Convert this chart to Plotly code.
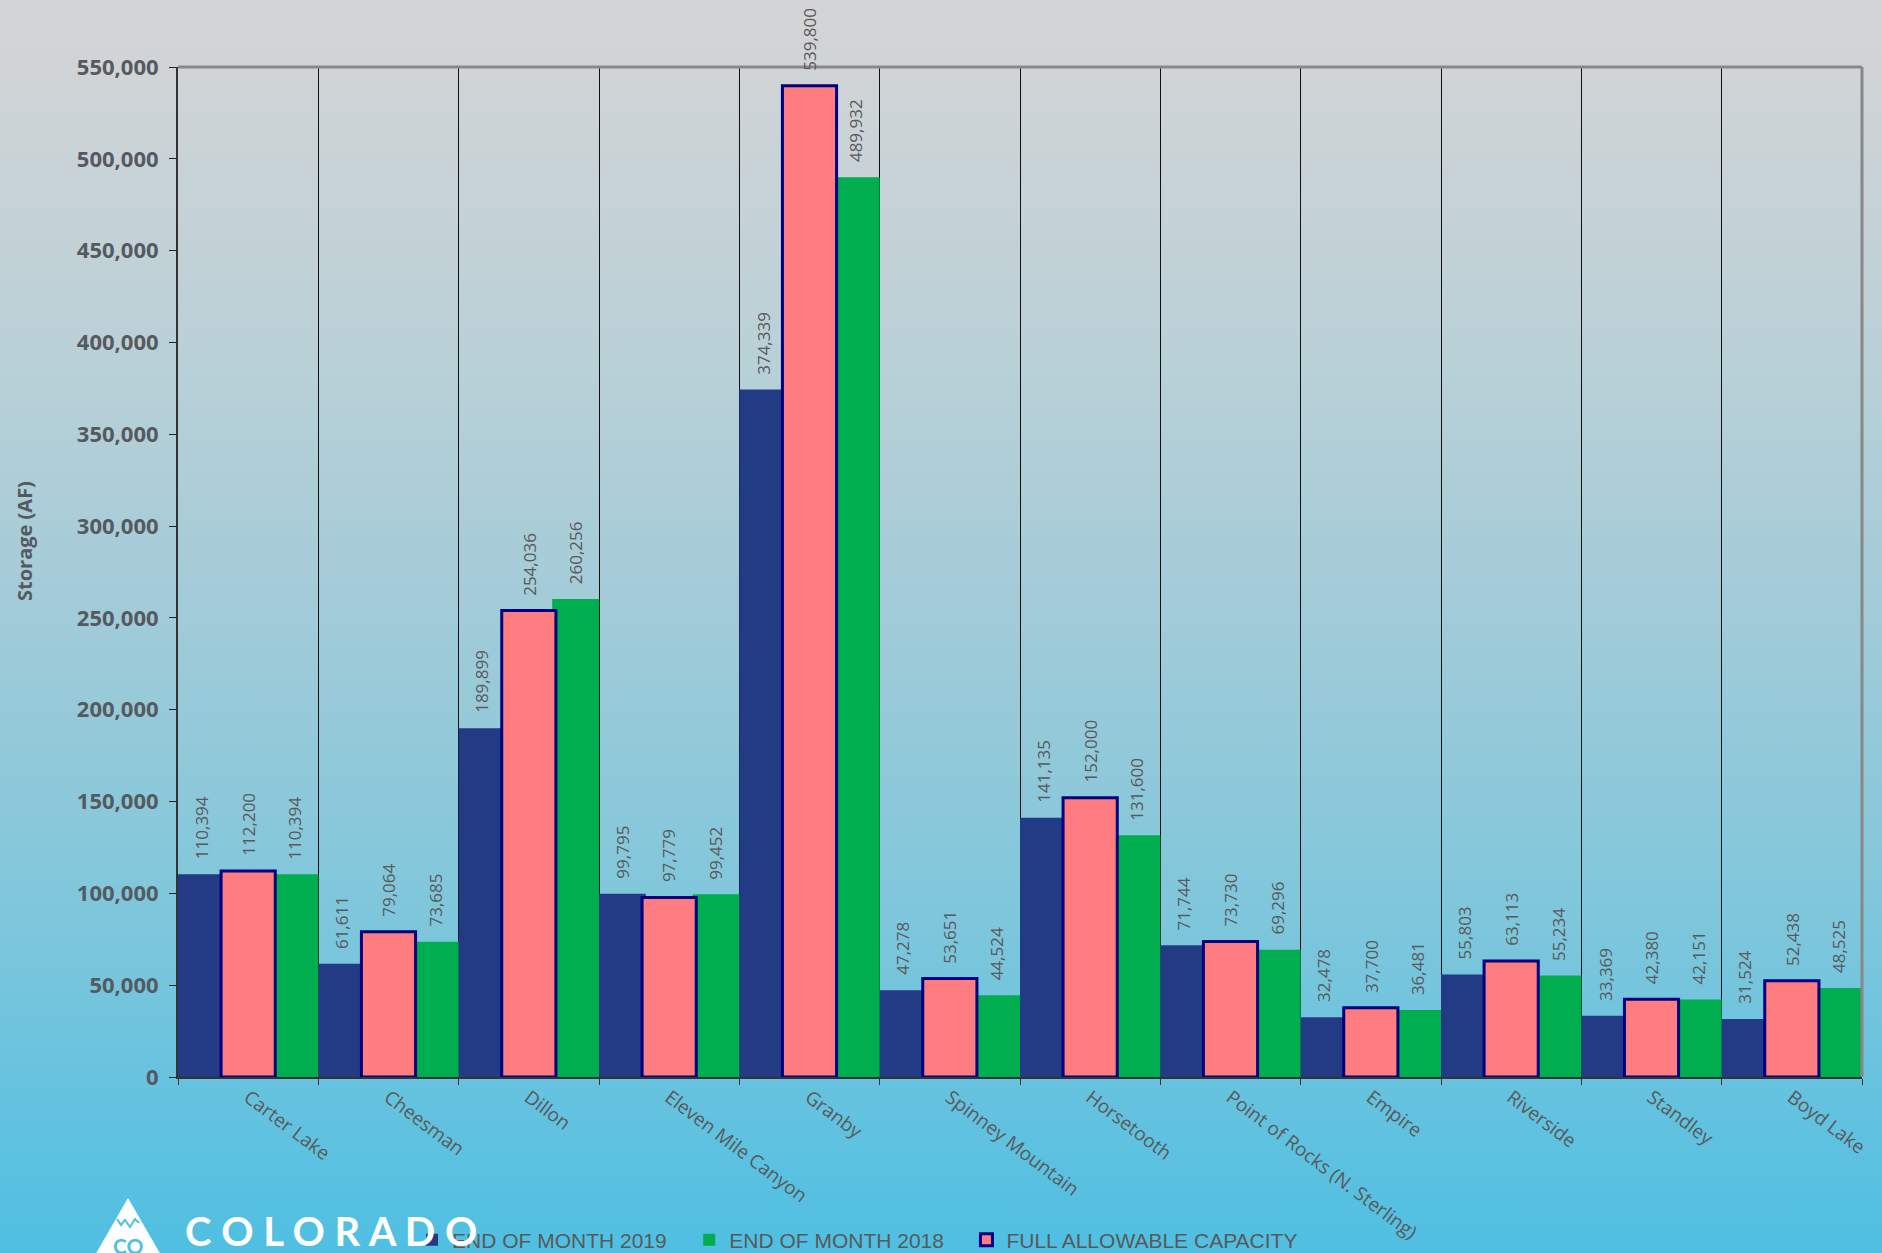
import base64
import plotly.graph_objects as go

categories = ["Carter Lake", "Cheesman", "Dillon", "Eleven Mile Canyon", "Granby",
              "Spinney Mountain", "Horsetooth", "Point of Rocks (N. Sterling)",
              "Empire", "Riverside", "Standley", "Boyd Lake"]
eom_2019 = [110394, 61611, 189899, 99795, 374339, 47278, 141135, 71744, 32478, 55803, 33369, 31524]
full_capacity = [112200, 79064, 254036, 97779, 539800, 53651, 152000, 73730, 37700, 63113, 42380, 52438]
eom_2018 = [110394, 73685, 260256, 99452, 489932, 44524, 131600, 69296, 36481, 55234, 42151, 48525]

W, H = 1882, 1253
ML, MR, MT, MB = 178, 20, 67, 176
PW, PH = W - ML - MR, H - MT - MB

BLUE = "#233a85"
GREEN = "#00ae4f"
PINK = "#ff7c80"
NAVY = "#000080"
TXT = "#595959"
PAD = "\u00a0\u00a0\u00a0"

fig = go.Figure()
fig.add_trace(go.Bar(name="END OF MONTH 2019" + PAD, x=categories, y=eom_2019,
                     marker=dict(color=BLUE, line=dict(width=0)),
                     offset=-0.5, width=1/3, legendrank=1))
fig.add_trace(go.Bar(name="END OF MONTH 2018" + PAD, x=categories, y=eom_2018,
                     marker=dict(color=GREEN, line=dict(width=0)),
                     offset=1/6, width=1/3, legendrank=2))
fig.add_trace(go.Bar(name="FULL ALLOWABLE CAPACITY", x=categories, y=full_capacity,
                     marker=dict(color=PINK, line=dict(color=NAVY, width=3)),
                     offset=-0.193, width=0.386, legendrank=3))

annotations = []
for series, shift in ((eom_2019, -1/3), (full_capacity, 0.0), (eom_2018, 1/3)):
    for i, v in enumerate(series):
        annotations.append(dict(x=i + shift, y=v, xref="x", yref="y", text=f"{v:,}",
                                showarrow=False, textangle=-90, yanchor="bottom",
                                xanchor="center", yshift=13,
                                font=dict(family="Open Sans", size=17, color=TXT)))

def px_x(p):
    return (p - ML) / PW

def px_y(p):
    return (H - MB - p) / PH

# y-axis title
annotations.append(dict(x=px_x(24), y=px_y(541), xref="paper", yref="paper",
                        xanchor="center", yanchor="middle",
                        text="Storage (AF)", showarrow=False, textangle=-90,
                        font=dict(family="Open Sans", size=20, color="#555a60", weight="bold")))
# logo text
annotations.append(dict(x=px_x(183), y=px_y(1231), xref="paper", yref="paper",
                        xanchor="left", yanchor="middle",
                        text="C O L O R A D O", showarrow=False,
                        font=dict(family="Lato", size=40, color="white", weight="bold")))
annotations.append(dict(x=px_x(128), y=px_y(1245), xref="paper", yref="paper",
                        xanchor="center", yanchor="middle",
                        text="CO", showarrow=False,
                        font=dict(family="Lato", size=21, color="#4fc0e1", weight="bold")))

# gradient background via SVG
svg = ('<svg xmlns="http://www.w3.org/2000/svg" width="100" height="100" preserveAspectRatio="none">'
       '<defs><linearGradient id="g" x1="0" y1="0" x2="0" y2="1">'
       '<stop offset="0" stop-color="#d3d4d6"/>'
       '<stop offset="0.05" stop-color="#d1d4d6"/>'
       '<stop offset="0.3" stop-color="#b8d0d7"/>'
       '<stop offset="0.5" stop-color="#a0cbd8"/>'
       '<stop offset="0.75" stop-color="#7bc6dc"/>'
       '<stop offset="1" stop-color="#4ebfe2"/>'
       '</linearGradient></defs><rect width="100" height="100" fill="url(#g)"/></svg>')
src = "data:image/svg+xml;base64," + base64.b64encode(svg.encode()).decode()

shapes = [
    dict(type="line", xref="paper", yref="paper", x0=0, x1=1, y0=1, y1=1,
         line=dict(color="#888888", width=3)),
    dict(type="line", xref="paper", yref="paper", x0=1, x1=1, y0=0, y1=1,
         line=dict(color="#888888", width=3)),
    # logo triangle
    dict(type="path", xref="paper", yref="paper", layer="above",
         path=(f"M{px_x(128)},{px_y(1198)} L{px_x(91)},{px_y(1262)} "
               f"L{px_x(165)},{px_y(1262)} Z"),
         fillcolor="white", line=dict(color="white", width=0)),
    dict(type="path", xref="paper", yref="paper", layer="above",
         path=(f"M{px_x(117)},{px_y(1219)} L{px_x(121)},{px_y(1225)} L{px_x(125)},{px_y(1220)} "
               f"L{px_x(130)},{px_y(1227)} L{px_x(135)},{px_y(1219)} L{px_x(139)},{px_y(1223)}"),
         line=dict(color="#4fc0e1", width=2)),
]

fig.update_layout(
    width=W, height=H,
    margin=dict(l=ML, r=MR, t=MT, b=MB, autoexpand=False),
    paper_bgcolor="#d3d4d6",
    plot_bgcolor="rgba(0,0,0,0)",
    barmode="overlay",
    showlegend=True,
    legend=dict(orientation="h", xref="container", yref="container",
                x=412 / W, y=1 - 1240 / H, xanchor="left", yanchor="middle",
                font=dict(family="Liberation Sans", size=21, color=TXT),
                bgcolor="rgba(0,0,0,0)", traceorder="normal"),
    images=[dict(source=src, xref="paper", yref="paper",
                 x=-(ML + 5) / PW, y=1 + (MT + 5) / PH, sizex=(W + 10) / PW,
                 sizey=(H + 10) / PH,
                 xanchor="left", yanchor="top", sizing="stretch", layer="below")],
    annotations=annotations,
    shapes=shapes,
    xaxis=dict(type="category", tickson="boundaries", showgrid=True, gridcolor="#111111",
               gridwidth=1, ticks="outside", ticklen=6, tickcolor="#333333",
               showline=True, linecolor="#333333", linewidth=2, tickangle=37,
               tickfont=dict(family="Open Sans", size=19, color=TXT),
               range=[-0.5, 11.5], zeroline=False, automargin=False),
    yaxis=dict(range=[0, 550000], dtick=50000, tickformat=",", showgrid=False,
               ticks="outside", ticklen=7, tickcolor="#222222",
               showline=True, linecolor="#333333", linewidth=2, zeroline=False,
               automargin=False, ticklabelstandoff=6,
               tickfont=dict(family="Open Sans", size=22, color="#555a60", weight="bold")),
)

fig.write_html("out.html", config={"displayModeBar": False},
               post_script="document.body.style.margin='0';document.body.style.overflow='hidden';")
